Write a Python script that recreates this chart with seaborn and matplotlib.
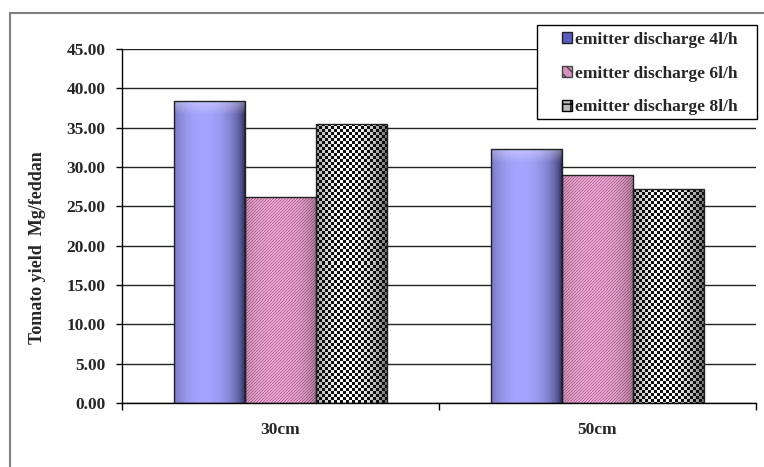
import numpy as np
import pandas as pd
import matplotlib
matplotlib.use('Agg')
import matplotlib.pyplot as plt
import seaborn as sns
from matplotlib.patches import Patch, Rectangle

spacing = ['30cm', '50cm']
discharge = ['emitter discharge 4l/h', 'emitter discharge 6l/h', 'emitter discharge 8l/h']
yield_4 = [38.4, 32.3]
yield_6 = [26.2, 29.0]
yield_8 = [35.5, 27.2]
y_ticks = [0, 5, 10, 15, 20, 25, 30, 35, 40, 45]

df = pd.DataFrame({
    'spacing': spacing * 3,
    'discharge': [discharge[0]] * 2 + [discharge[1]] * 2 + [discharge[2]] * 2,
    'yield': yield_4 + yield_6 + yield_8,
})

sns.set_style('white')
plt.rcParams['font.family'] = ['Liberation Serif', 'DejaVu Serif']
plt.rcParams['font.weight'] = 'bold'

fig = plt.figure(figsize=(7.64, 4.67), dpi=100)
W, H = 764, 467
ax = fig.add_axes([122 / W, 1 - 403 / H, (756 - 122) / W, (403 - 49) / H])

sns.barplot(data=df, x='spacing', y='yield', hue='discharge', hue_order=discharge,
            palette=['#9999ff', '#e0a0c8', '#888888'], width=0.67, gap=0,
            errorbar=None, legend=False, edgecolor='#222222', linewidth=1, ax=ax)

ax.set_xlim(-0.5, 1.5)
ax.set_ylim(0, 45)
ax.set_yticks(y_ticks)
ax.set_yticklabels([f'{v:.2f}' for v in y_ticks])
ax.yaxis.grid(True, color='#222222', lw=1)
ax.set_axisbelow(True)
for s in ['top', 'right']:
    ax.spines[s].set_visible(False)
for s in ['left', 'bottom']:
    ax.spines[s].set_color('black')
    ax.spines[s].set_linewidth(1)

ax.tick_params(axis='y', length=4, width=1, pad=8, labelsize=12.5, color='black', left=True)
ax.set_xticks([-0.5, 0.5, 1.5], minor=True)
ax.tick_params(axis='x', which='minor', length=5, width=1, bottom=True, color='black')
ax.tick_params(axis='x', which='major', length=0, pad=14, labelsize=12.5)
ax.set_xlabel('')
ax.set_ylabel('Tomato yield  Mg/feddan', fontsize=13, fontweight='bold')
ax.yaxis.set_label_coords(-0.12, 0.44)


# pattern fills clipped to the bars
def blue_img(h, w):
    t = np.linspace(0, 1, w)
    f = np.clip(1 - ((t - 0.42) / 0.58) ** 2, 0, 1) ** 0.6
    dark = np.array([40, 40, 85])
    light = np.array([165, 165, 255])
    row = dark + (light - dark) * f[:, None]
    img = np.repeat(row[None, :, :], h, axis=0)
    top = min(14, h)
    for k in range(top):
        a = 0.35 * (1 - k / top)
        img[k] = img[k] + (255 - img[k]) * a
    return img / 255


def pink_img(h, w):
    i, j = np.mgrid[0:h, 0:w]
    base = np.array([232, 168, 208])
    stripe = np.array([185, 105, 155])
    m = ((i + j) % 3 == 0)[:, :, None]
    img = np.where(m, stripe, base).astype(float)
    t = np.linspace(0, 1, w)
    shade = 1 - 0.25 * (np.abs(t - 0.45) / 0.55) ** 3
    return np.clip(img * shade[None, :, None], 0, 255) / 255


def check_img(h, w):
    i, j = np.mgrid[0:h, 0:w]
    m = ((i // 3 + j // 3) % 2 == 0)
    t = np.linspace(0, 1, w)
    white = 255 - 140 * (np.abs(t - 0.45) / 0.55) ** 2
    img = np.where(m, 15, white[None, :])
    return np.repeat(img[:, :, None], 3, axis=2) / 255


makers = [blue_img, pink_img, check_img]
for c, maker in zip(ax.containers, makers):
    for bar in c:
        x0, y0 = bar.get_x(), bar.get_y()
        w, h = bar.get_width(), bar.get_height()
        p0 = ax.transData.transform((x0, y0))
        p1 = ax.transData.transform((x0 + w, y0 + h))
        wp = max(int(round(p1[0] - p0[0])), 1)
        hp = max(int(round(p1[1] - p0[1])), 1)
        im = ax.imshow(maker(hp, wp), extent=(x0, x0 + w, y0, y0 + h), origin='upper',
                       aspect='auto', interpolation='nearest', zorder=2)
        im.set_clip_path(bar)
        bar.set_facecolor('none')
        bar.set_zorder(3)

ax.set_xlim(-0.5, 1.5)
ax.set_ylim(0, 45)

# legend box (frame drawn separately to match the wide left margin)
fig.patches.append(Rectangle((537 / W, 1 - 119 / H), 220 / W, 94 / H, transform=fig.transFigure,
                             facecolor='white', edgecolor='black', lw=1, zorder=5))
handles = [
    Patch(facecolor='#5c5cc0', edgecolor='#222222'),
    Patch(facecolor='#d890bc', edgecolor='#444444', hatch='\\\\\\'),
    Patch(facecolor='#bbbbbb', edgecolor='black', hatch='++'),
]
leg = fig.legend(handles, discharge, loc='upper left', bbox_to_anchor=(562 / W, 1 - 32 / H),
                 bbox_transform=fig.transFigure, frameon=False,
                 handlelength=0.6, handleheight=0.6, handletextpad=0.15,
                 labelspacing=1.02, borderpad=0, borderaxespad=0,
                 prop={'size': 12.5, 'weight': 'bold'})
leg.set_zorder(6)

fig.patches.append(Rectangle((10 / W, -0.1), 2, 1 - 13 / H + 0.1, transform=fig.transFigure,
                             fill=False, edgecolor='#808080', lw=1.5))

fig.savefig('out.png', dpi=100)
